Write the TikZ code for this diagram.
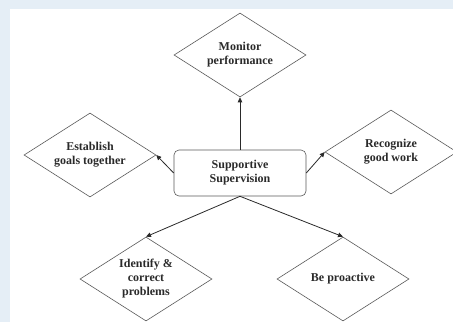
\documentclass[tikz,border=0pt]{standalone}
\usepackage{fontspec}
\setmainfont{Liberation Serif}
\usetikzlibrary{arrows.meta,shapes.geometric}
\definecolor{pagebg}{HTML}{E5EEF6}
\definecolor{ink}{HTML}{2A2A2A}
\definecolor{rim}{HTML}{5A5A5A}
\tikzset{
  >={Triangle[length=5pt,width=4.5pt]},
  flow/.style={->,line width=.8pt,draw=ink},
  base/.style={draw=rim,line width=.6pt,align=center,text=ink,
               font=\fontsize{12}{14}\selectfont\bfseries},
  aim/.style={base,diamond,aspect=1.57,inner sep=0pt,
              minimum width=132pt,minimum height=84pt},
  hub/.style={base,rounded corners=5pt,minimum width=132pt,minimum height=46pt}
}
\begin{document}
\begin{tikzpicture}[x=1pt,y=-1pt]
  \path[use as bounding box,fill=pagebg] (0,0) rectangle (453,322);
  \fill[white] (10,9) rectangle (453,322);
  \node[hub] (sup) at (240,173) {Supportive\\Supervision};
  \node[aim] (monitor) at (240,55) {Monitor\\performance};
  \node[aim] (goals) at (90,155) {Establish\\goals together};
  \node[aim] (recog) at (391,152) {Recognize\\good work};
  \node[aim] (ident) at (146,279) {Identify \&\\correct\\problems};
  \node[aim] (proact) at (343,279) {Be proactive};
  \draw[flow] (sup.north)--(monitor.south);
  \draw[flow] (sup.west)--(goals.east);
  \draw[flow] (sup.east)--(recog.west);
  \draw[flow] (sup.south)--(ident.north);
  \draw[flow] (sup.south)--(proact.north);
\end{tikzpicture}
\end{document}
